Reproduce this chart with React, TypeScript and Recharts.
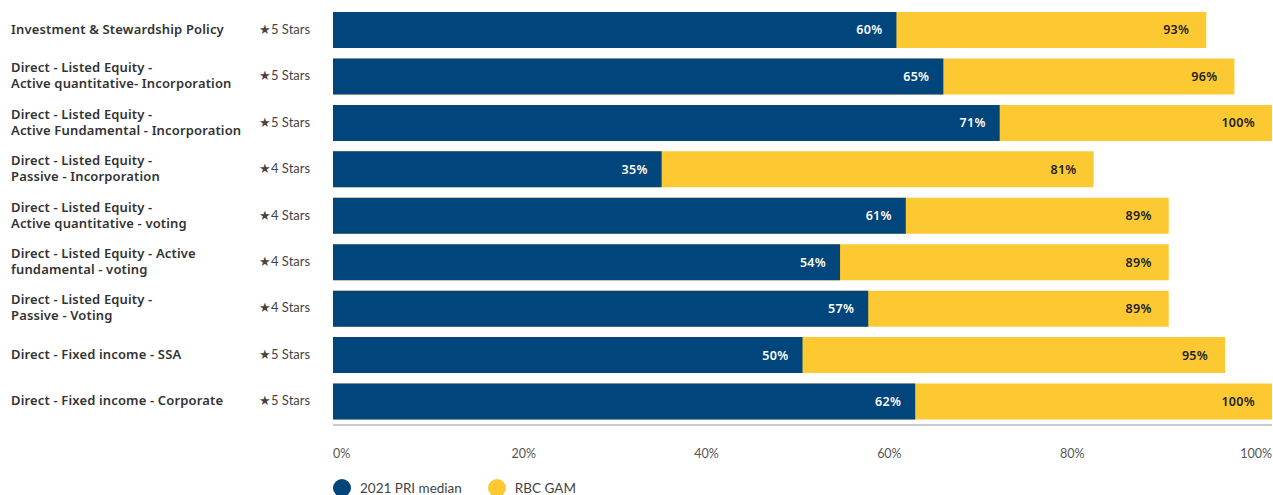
import { BarChart, Bar, XAxis, YAxis, LabelList } from "recharts";

const categories = [
  "Investment & Stewardship Policy",
  "Direct - Listed Equity -\nActive quantitative- Incorporation",
  "Direct - Listed Equity -\nActive Fundamental - Incorporation",
  "Direct - Listed Equity -\nPassive - Incorporation",
  "Direct - Listed Equity -\nActive quantitative - voting",
  "Direct - Listed Equity - Active\nfundamental - voting",
  "Direct - Listed Equity -\nPassive - Voting",
  "Direct - Fixed income - SSA",
  "Direct - Fixed income - Corporate",
];
const ratings = [5, 5, 5, 4, 4, 4, 4, 5, 5];
const priMedian = [60, 65, 71, 35, 61, 54, 57, 50, 62];
const rbcGam = [93, 96, 100, 81, 89, 89, 89, 95, 100];
const xTicks = [0, 20, 40, 60, 80, 100];

const BLUE = "#00457c";
const YELLOW = "#fdc933";
const FONT = "'Noto Sans', 'Open Sans', sans-serif";
const LIGHT = "Lato, 'Noto Sans', sans-serif";

const data = categories.map((name, i) => ({
  name,
  pri: priMedian[i],
  rbc: rbcGam[i],
}));

function CategoryTick(props: any) {
  const { y, payload } = props;
  const i = categories.indexOf(payload.value);
  const lines: string[] = String(payload.value).split("\n");
  const start = -((lines.length - 1) * 16) / 2 - 1.5;
  return (
    <g>
      <text
        x={11}
        y={y}
        fill="#333"
        fontSize={13}
        fontWeight={600}
        fontFamily={FONT}
        letterSpacing={0.15}
        dominantBaseline="central"
      >
        {lines.map((l, k) => (
          <tspan key={k} x={11} y={y + start + k * 16}>
            {l}
          </tspan>
        ))}
      </text>
      <text
        x={259}
        y={y - 1.5}
        fill="#444"
        fontSize={13}
        fontFamily={LIGHT}
        dominantBaseline="central"
      >
        {`★${ratings[i]} Stars`}
      </text>
    </g>
  );
}

function PercentTick(props: any) {
  const { x, y, payload } = props;
  const v = payload.value;
  let anchor: "start" | "middle" | "end" = "middle";
  let dx = 8 - (v / 20) * 5;
  if (v === 0) {
    anchor = "start";
    dx = 0;
  } else if (v === 100) {
    anchor = "end";
    dx = 0;
  }
  return (
    <text
      x={x + dx}
      y={y + 20}
      textAnchor={anchor}
      fill="#555"
      fontSize={12.5}
      fontFamily={LIGHT}
      dominantBaseline="central"
    >
      {`${v}%`}
    </text>
  );
}

export default function App() {
  return (
    <div style={{ position: "absolute", left: 0, top: 0, width: 1273, height: 495 }}>
      <BarChart
        width={1273}
        height={495}
        data={data}
        layout="vertical"
        margin={{ top: 7, right: 1, left: 0, bottom: 0 }}
        barSize={36}
        barGap={-36}
      >
        <XAxis
          type="number"
          domain={[0, 100]}
          ticks={xTicks}
          height={70}
          axisLine={{ stroke: "#c8ccd0", strokeWidth: 2 }}
          tickLine={false}
          tick={<PercentTick />}
          interval={0}
        />
        <YAxis
          type="category"
          dataKey="name"
          width={333}
          axisLine={false}
          tickLine={false}
          tick={<CategoryTick />}
          interval={0}
        />
        <Bar dataKey="rbc" fill={YELLOW} isAnimationActive={false}>
          <LabelList
            dataKey="rbc"
            position="insideRight"
            offset={17}
            fill="#222"
            fontSize={12.5}
            fontWeight={600}
            fontFamily={FONT}
            letterSpacing={0.3}
            formatter={(v: any) => `${v}%`}
          />
        </Bar>
        <Bar dataKey="pri" fill={BLUE} isAnimationActive={false}>
          <LabelList
            dataKey="pri"
            position="insideRight"
            offset={14}
            fill="#fff"
            fontSize={12.5}
            fontWeight={600}
            fontFamily={FONT}
            letterSpacing={0.3}
            formatter={(v: any) => `${v}%`}
          />
        </Bar>
      </BarChart>
      <div
        style={{
          position: "absolute",
          left: 333,
          top: 479,
          display: "flex",
          alignItems: "center",
          fontFamily: LIGHT,
          fontSize: 13.5,
          color: "#444",
        }}
      >
        <span style={{ width: 18, height: 18, borderRadius: 9, background: BLUE, marginRight: 9 }} />
        <span style={{ marginRight: 26 }}>2021 PRI median</span>
        <span style={{ width: 18, height: 18, borderRadius: 9, background: YELLOW, marginRight: 9 }} />
        <span>RBC GAM</span>
      </div>
    </div>
  );
}
